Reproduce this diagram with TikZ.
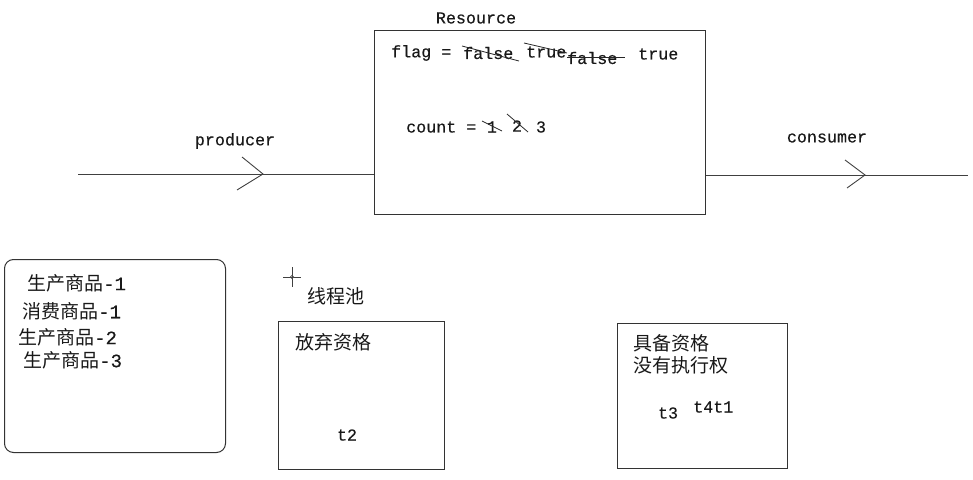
\documentclass[tikz,border=0pt]{standalone}
\usepackage{fontspec}
\setmonofont{Liberation Mono}
\newfontfamily\cjk{Noto Sans CJK SC}
\newfontfamily\mono[FakeBold=0.4]{Liberation Mono}
\begin{document}
\begin{tikzpicture}[x=1pt,y=-1pt,
  line/.style={draw=black!75,line width=0.9pt},
  box/.style={draw=black!80,line width=1pt,inner sep=0pt,anchor=north west},
  strike/.style={draw=black!85,line width=0.8pt},
  lt/.style={font=\mono\fontsize{16.7}{18}\selectfont,inner sep=0pt,text=black!90},
  ct/.style={font=\cjk\fontsize{19}{21}\selectfont,inner sep=0pt,text=black!90}]
\useasboundingbox (0,0) rectangle (973,479);
% Resource box
\node[box,minimum width=331pt,minimum height=184pt] (res) at (374,30) {};
\node[lt] (reslbl) at (476,18) {Resource};
% producer line
\coordinate (pstart) at (78,174);
\draw[line] (pstart) -- (pstart -| res.west);
\coordinate (ptip) at (263,174);
\draw[line] (242,157) -- (ptip) -- (237,190);
\node[lt] (prod) at (235,141) {producer};
% consumer line
\coordinate (cend) at (968,175);
\draw[line] (cend -| res.east) -- (cend);
\coordinate (ctip) at (865,175);
\draw[line] (845,160) -- (ctip) -- (847,188);
\node[lt] (cons) at (827,138) {consumer};
% flag line
\node[lt,anchor=west] (flag) at (391,53) {flag =};
\node[lt,anchor=west] (f1) at (463,53) {false};
\node[lt,anchor=west] (t1) at (526,52) {true};
\node[lt,anchor=west] (f2) at (567,58) {false};
\node[lt,anchor=west] (t2f) at (638,54) {true};
\draw[strike] (462,46) -- (519,61);
\draw[strike] (524,43) -- (567,53);
\draw[strike] (567,57) -- (625,57);
% count line
\node[lt,anchor=west] (count) at (406,127) {count =};
\node[lt] (n1) at (492,127) {1};
\node[lt] (n2) at (517,126) {2};
\node[lt] (n3) at (541,127) {3};
\draw[strike] (482,121) -- (502,131);
\draw[strike] (507,114) -- (528,132);
% left rounded box
\node[box,rounded corners=9pt,minimum width=221pt,minimum height=193pt] (log) at (4,259) {};
\node[ct,anchor=west] (l1) at (27,283) {生产商品{\mono -1}};
\node[ct,anchor=west] (l2) at (22,311) {消费商品{\mono -1}};
\node[ct,anchor=west] (l3) at (18,337) {生产商品{\mono -2}};
\node[ct,anchor=west] (l4) at (23,360) {生产商品{\mono -3}};
% crosshair
\coordinate (cross) at (292,277);
\draw[line,line width=0.8pt] (283,277) -- (301,277) (292,267) -- (292,287);
\draw[black!70,line width=0.6pt] (cross) circle (1.6pt);
\node[ct,anchor=west] (pool) at (307,296) {线程池};
% abandon box
\node[box,minimum width=166pt,minimum height=148pt] (ab) at (278,321) {};
\node[ct,anchor=west] (abl) at (295,342) {放弃资格};
\node[lt] (tt2) at (347,435) {t2};
% ready box
\node[box,minimum width=170pt,minimum height=145pt] (rd) at (617,323) {};
\node[ct,anchor=west] (rd1) at (633,343) {具备资格};
\node[ct,anchor=west] (rd2) at (633,365) {没有执行权};
\node[lt] (tt3) at (668,413) {t3};
\node[lt,anchor=west] (tt41) at (693,407) {t4t1};
\end{tikzpicture}
\end{document}
